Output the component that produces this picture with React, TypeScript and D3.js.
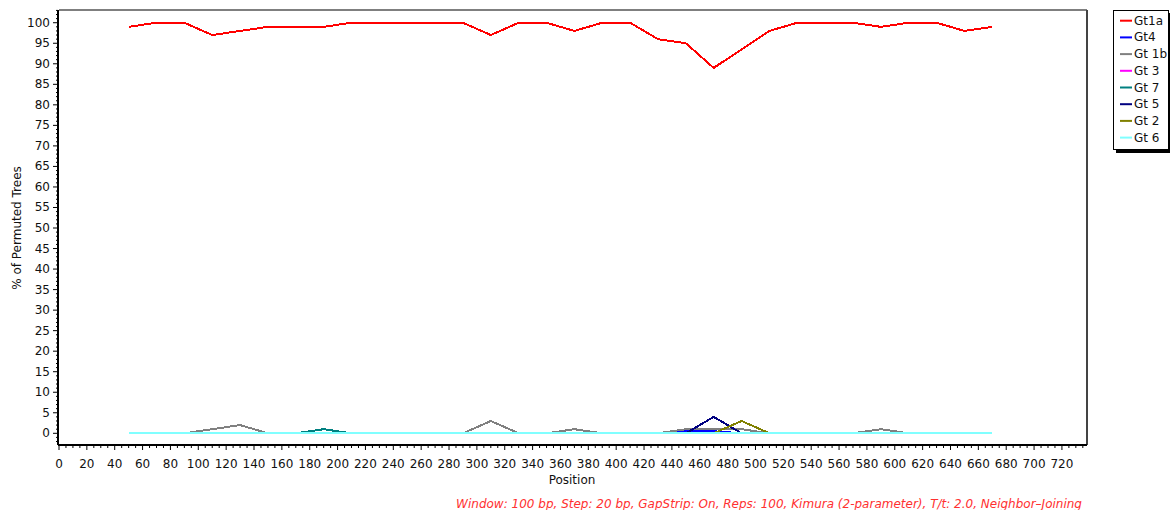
import React from 'react';
import * as d3 from 'd3';

// window positions (bp)
const positions = [50, 70, 90, 110, 130, 150, 170, 190, 210, 230, 250, 270, 290, 310, 330, 350, 370, 390, 410, 430, 450, 470, 490, 510, 530, 550, 570, 590, 610, 630, 650, 670];

const gt1a = [99, 100, 100, 97, 98, 99, 99, 99, 100, 100, 100, 100, 100, 97, 100, 100, 98, 100, 100, 96, 95, 89, 93.5, 98, 100, 100, 100, 99, 100, 100, 98, 99];
const gt4 = [0, 0, 0, 0, 0, 0, 0, 0, 0, 0, 0, 0, 0, 0, 0, 0, 0, 0, 0, 0, 0.5, 0.5, 0, 0, 0, 0, 0, 0, 0, 0, 0, 0];
const gt1b = [0, 0, 0, 1, 2, 0, 0, 0, 0, 0, 0, 0, 0, 3, 0, 0, 1, 0, 0, 0, 1, 1, 1, 0, 0, 0, 0, 1, 0, 0, 0, 0];
const gt3 = [0, 0, 0, 0, 0, 0, 0, 0, 0, 0, 0, 0, 0, 0, 0, 0, 0, 0, 0, 0, 0, 0, 0, 0, 0, 0, 0, 0, 0, 0, 0, 0];
const gt7 = [0, 0, 0, 0, 0, 0, 0, 1, 0, 0, 0, 0, 0, 0, 0, 0, 0, 0, 0, 0, 0, 0, 0, 0, 0, 0, 0, 0, 0, 0, 0, 0];
const gt5 = [0, 0, 0, 0, 0, 0, 0, 0, 0, 0, 0, 0, 0, 0, 0, 0, 0, 0, 0, 0, 0, 4, 0, 0, 0, 0, 0, 0, 0, 0, 0, 0];
const gt2 = [0, 0, 0, 0, 0, 0, 0, 0, 0, 0, 0, 0, 0, 0, 0, 0, 0, 0, 0, 0, 0, 0, 3, 0, 0, 0, 0, 0, 0, 0, 0, 0];
const gt6 = [0, 0, 0, 0, 0, 0, 0, 0, 0, 0, 0, 0, 0, 0, 0, 0, 0, 0, 0, 0, 0, 0, 0, 0, 0, 0, 0, 0, 0, 0, 0, 0];

const seriesNames = ['Gt1a', 'Gt4', 'Gt 1b', 'Gt 3', 'Gt 7', 'Gt 5', 'Gt 2', 'Gt 6'];
const seriesValues = [gt1a, gt4, gt1b, gt3, gt7, gt5, gt2, gt6];
const seriesColors = ['#ff0000', '#0000ff', '#808080', '#ff00ff', '#008080', '#000080', '#808000', '#80ffff'];

const xTicks = d3.range(0, 721, 20);
const yTicks = d3.range(0, 101, 5);

const footer = 'Window: 100 bp, Step: 20 bp, GapStrip: On, Reps: 100, Kimura (2-parameter), T/t: 2.0, Neighbor\u2013Joining';

const font = '"DejaVu Sans", Verdana, sans-serif';

export default function App() {
  const width = 1170;
  const height = 510;
  const left = 59;
  const right = 1087;
  const top = 10;
  const bottom = 445;

  const x = d3.scaleLinear().domain([0, 738]).range([left, right]);
  const y = d3.scaleLinear().domain([-2.85, 103.1]).range([bottom, top]);

  const line = d3.line<[number, number]>()
    .x(d => x(d[0]))
    .y(d => y(d[1]));

  const xMinor = d3.range(0, 736, 5);
  const yMinor = d3.range(-2, 104, 1);

  return (
    <svg width={width} height={height} style={{ position: 'absolute', left: 0, top: 0 }} fontFamily={font}>
      <rect width={width} height={height} fill="#fff" />

      {/* frame */}
      <line x1={left} x2={right} y1={top} y2={top} stroke="#555" strokeWidth={1.5} />
      <line x1={right} x2={right} y1={top} y2={bottom} stroke="#444" strokeWidth={2} />

      {/* series */}
      {seriesValues.map((vals, i) => (
        <path
          key={seriesNames[i]}
          d={line(positions.map((p, j) => [p, vals[j]] as [number, number])) || ''}
          fill="none"
          stroke={seriesColors[i]}
          strokeWidth={2}
          shapeRendering="crispEdges"
        />
      ))}

      {/* x axis */}
      <line x1={left - 1} x2={right} y1={bottom} y2={bottom} stroke="#000" strokeWidth={2} />
      {xMinor.map(v => (
        <line key={'xm' + v} x1={x(v)} x2={x(v)} y1={bottom} y2={bottom + (v % 20 === 0 ? 5 : 3)} stroke="#000" strokeWidth={1} />
      ))}
      {xTicks.map(v => (
        <text key={'xt' + v} x={x(v)} y={468} fontSize={12} textAnchor="middle" fill="#111">{v}</text>
      ))}
      <text x={572} y={484} fontSize={12} textAnchor="middle" fill="#111">Position</text>

      {/* y axis */}
      <line x1={left - 1} x2={left - 1} y1={top} y2={bottom} stroke="#000" strokeWidth={2} />
      {yMinor.map(v => (
        <line key={'ym' + v} x1={left - 1 - (v % 5 === 0 ? 5 : 2)} x2={left - 1} y1={y(v)} y2={y(v)} stroke="#000" strokeWidth={1} />
      ))}
      {yTicks.map(v => (
        <text key={'yt' + v} x={50} y={y(v) + 4} fontSize={12} textAnchor="end" fill="#111">{v}</text>
      ))}
      <text transform={`translate(21,${228}) rotate(-90)`} fontSize={12} textAnchor="middle" fill="#111">% of Permuted Trees</text>

      {/* legend */}
      <rect x={1116} y={13} width={55} height={140} fill="#000" />
      <rect x={1113.5} y={10.5} width={55} height={139} fill="#fff" stroke="#000" strokeWidth={1} />
      {seriesNames.map((name, i) => {
        const ly = 20.7 + i * 16.7;
        return (
          <g key={'lg' + name}>
            <line x1={1120} x2={1132} y1={ly} y2={ly} stroke={seriesColors[i]} strokeWidth={2} />
            <text x={1134} y={ly + 4} fontSize={12} fill="#111">{name}</text>
          </g>
        );
      })}

      {/* run settings */}
      <text x={1082} y={507.5} fontSize={12} fontStyle="italic" textAnchor="end" fill="#ff3030">{footer}</text>
    </svg>
  );
}
